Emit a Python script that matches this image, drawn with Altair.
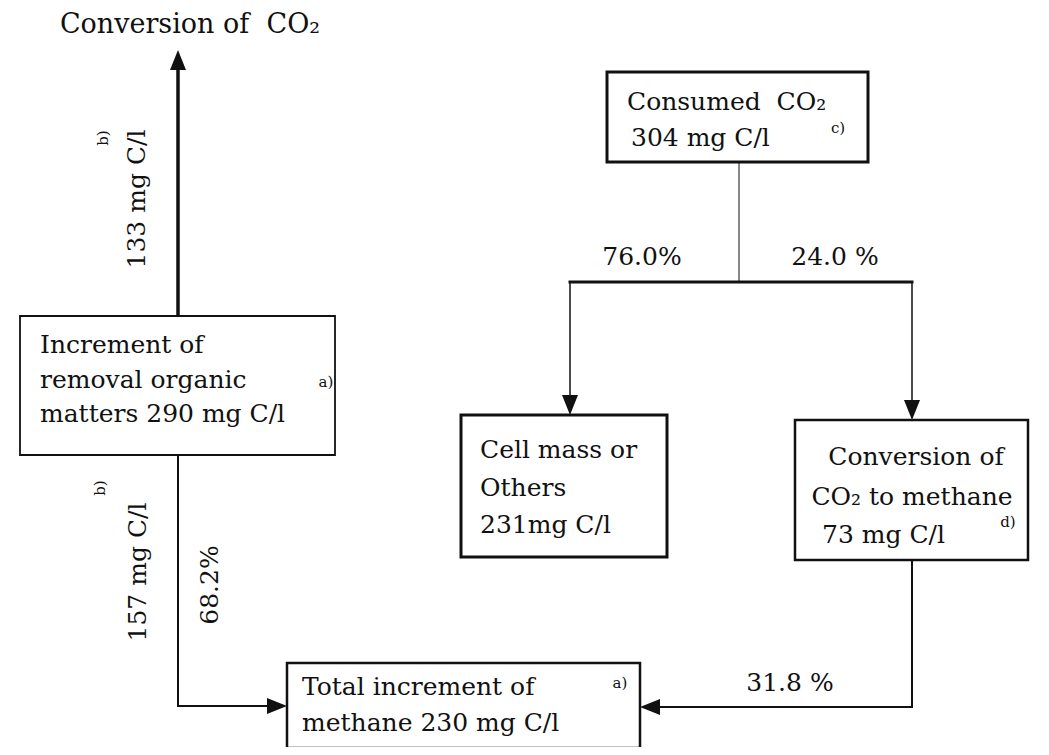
import altair as alt
import pandas as pd

# ---------------- content ----------------
title_text = "Conversion of\u00a0\u00a0CO\u2082"
node_ids = ["removal", "consumed", "cell", "conversion", "total"]
node_lines = [
    ["Increment of", "removal organic", "matters 290 mg C/l"],
    ["Consumed\u00a0\u00a0CO\u2082", "304 mg C/l"],
    ["Cell mass or", "Others", "231mg C/l"],
    ["Conversion of", "CO\u2082 to methane", "73 mg C/l"],
    ["Total increment of", "methane 230 mg C/l"],
]
node_notes = ["a)", "c)", "", "d)", "a)"]
flow_labels = ["133 mg C/l", "157 mg C/l", "68.2%", "76.0%", "24.0 %", "31.8 %"]
flow_notes = ["b)", "b)"]

# ---------------- layout (page pixel coordinates) ----------------
box_pos = {
    "removal": (20, 316, 335, 455, 1.8),
    "consumed": (607, 72, 868, 162, 3),
    "cell": (461, 415, 667, 557, 3),
    "conversion": (795, 420, 1028, 560, 2.5),
    "total": (287, 663, 640, 748, 2.5),
}
line_pos = {
    "removal": [(40, 345, "left"), (40, 380, "left"), (40, 414, "left")],
    "consumed": [(627, 102, "left"), (631, 138, "left")],
    "cell": [(480, 450, "left"), (480, 488, "left"), (480, 525, "left")],
    "conversion": [(916, 457, "center"), (912, 497, "center"), (822, 535, "left")],
    "total": [(302, 687, "left"), (302, 723, "left")],
}
note_pos = {"removal": (326, 382), "consumed": (838, 128), "conversion": (1008, 522), "total": (620, 683)}
flow_pos = [  # x, y, angle
    (137, 199, 270), (138, 572, 270), (210, 585, 270),
    (642, 257, 0), (835, 257, 0), (790, 683, 0),
]
flow_note_pos = [(103, 138), (100, 488)]
title_pos = (190, 25)

segments = [  # x, y, x2, y2, width
    (178, 316, 178, 60, 3.5),
    (178, 455, 178, 706, 2),
    (178, 706, 277, 706, 2),
    (739, 162, 739, 282, 1),
    (570, 282, 912, 282, 3),
    (570, 282, 570, 405, 1.5),
    (912, 282, 912, 410, 1.5),
    (912, 560, 912, 707, 2),
    (912, 707, 650, 707, 2),
]
heads = [  # centre x, centre y, direction
    (178, 60, "up"),
    (277, 706, "right"),
    (570, 405, "down"),
    (912, 410, "down"),
    (650, 707, "left"),
]
head_paths = {
    "up": "M0,-1L0.8,1L-0.8,1Z",
    "down": "M0,1L0.8,-1L-0.8,-1Z",
    "right": "M1,0L-1,0.8L-1,-0.8Z",
    "left": "M-1,0L1,0.8L1,-0.8Z",
}

# ---------------- tables ----------------
boxes = pd.DataFrame([
    {"id": n, "x": box_pos[n][0], "y": box_pos[n][1], "x2": box_pos[n][2], "y2": box_pos[n][3], "w": box_pos[n][4]}
    for n in node_ids
])
text_rows = []
for n, lines in zip(node_ids, node_lines):
    for t, (x, y, al) in zip(lines, line_pos[n]):
        text_rows.append({"text": t, "x": x, "y": y, "align": al, "fs": 25, "angle": 0})
for n, note in zip(node_ids, node_notes):
    if note:
        x, y = note_pos[n]
        text_rows.append({"text": note, "x": x, "y": y, "align": "center", "fs": 15, "angle": 0})
for t, (x, y, a) in zip(flow_labels, flow_pos):
    text_rows.append({"text": t, "x": x, "y": y, "align": "center", "fs": 25, "angle": a})
for t, (x, y) in zip(flow_notes, flow_note_pos):
    text_rows.append({"text": t, "x": x, "y": y, "align": "center", "fs": 15, "angle": 270})
text_rows.append({"text": title_text, "x": title_pos[0], "y": title_pos[1], "align": "center", "fs": 27, "angle": 0})
texts = pd.DataFrame(text_rows)

segs = pd.DataFrame(segments, columns=["x", "y", "x2", "y2", "w"])
hd = pd.DataFrame(heads, columns=["x", "y", "dir"])

# ---------------- scales ----------------
W, H = 1030, 739
xs = alt.Scale(domain=[8, 8 + W], nice=False, zero=False)
ys = alt.Scale(domain=[8, 8 + H], nice=False, zero=False, reverse=True)
FONT = "DejaVu Serif"
INK = "#111111"


def X(f="x"):
    return alt.X(f"{f}:Q", scale=xs, axis=None)


def Y(f="y"):
    return alt.Y(f"{f}:Q", scale=ys, axis=None)


lines_layer = alt.Chart(segs).mark_rule(color=INK, strokeCap="square").encode(
    x=X(), y=Y(), x2="x2:Q", y2="y2:Q",
    strokeWidth=alt.StrokeWidth("w:Q", scale=None, legend=None),
)
box_layer = alt.Chart(boxes).mark_rect(fill="white", stroke=INK).encode(
    x=X(), y=Y(), x2="x2:Q", y2="y2:Q",
    strokeWidth=alt.StrokeWidth("w:Q", scale=None, legend=None),
)
head_layer = alt.Chart(hd).mark_point(filled=True, color=INK, opacity=1, size=400).encode(
    x=X(), y=Y(),
    shape=alt.Shape("dir:N", scale=alt.Scale(domain=list(head_paths.keys()),
                                              range=list(head_paths.values())), legend=None),
)


def text_layer(al):
    return alt.Chart(texts[texts["align"] == al]).mark_text(
        align=al, baseline="middle", font=FONT, color=INK
    ).encode(
        x=X(), y=Y(), text="text:N",
        size=alt.Size("fs:Q", scale=None, legend=None),
        angle=alt.Angle("angle:Q", scale=None),
    )


chart = alt.layer(
    lines_layer, box_layer, head_layer, text_layer("left"), text_layer("center")
).properties(
    width=W, height=H, padding=0, autosize=alt.AutoSizeParams(type="none"), background="white"
).configure_view(stroke=None)

chart.save("out.html", embed_options={"renderer": "svg", "actions": False})
